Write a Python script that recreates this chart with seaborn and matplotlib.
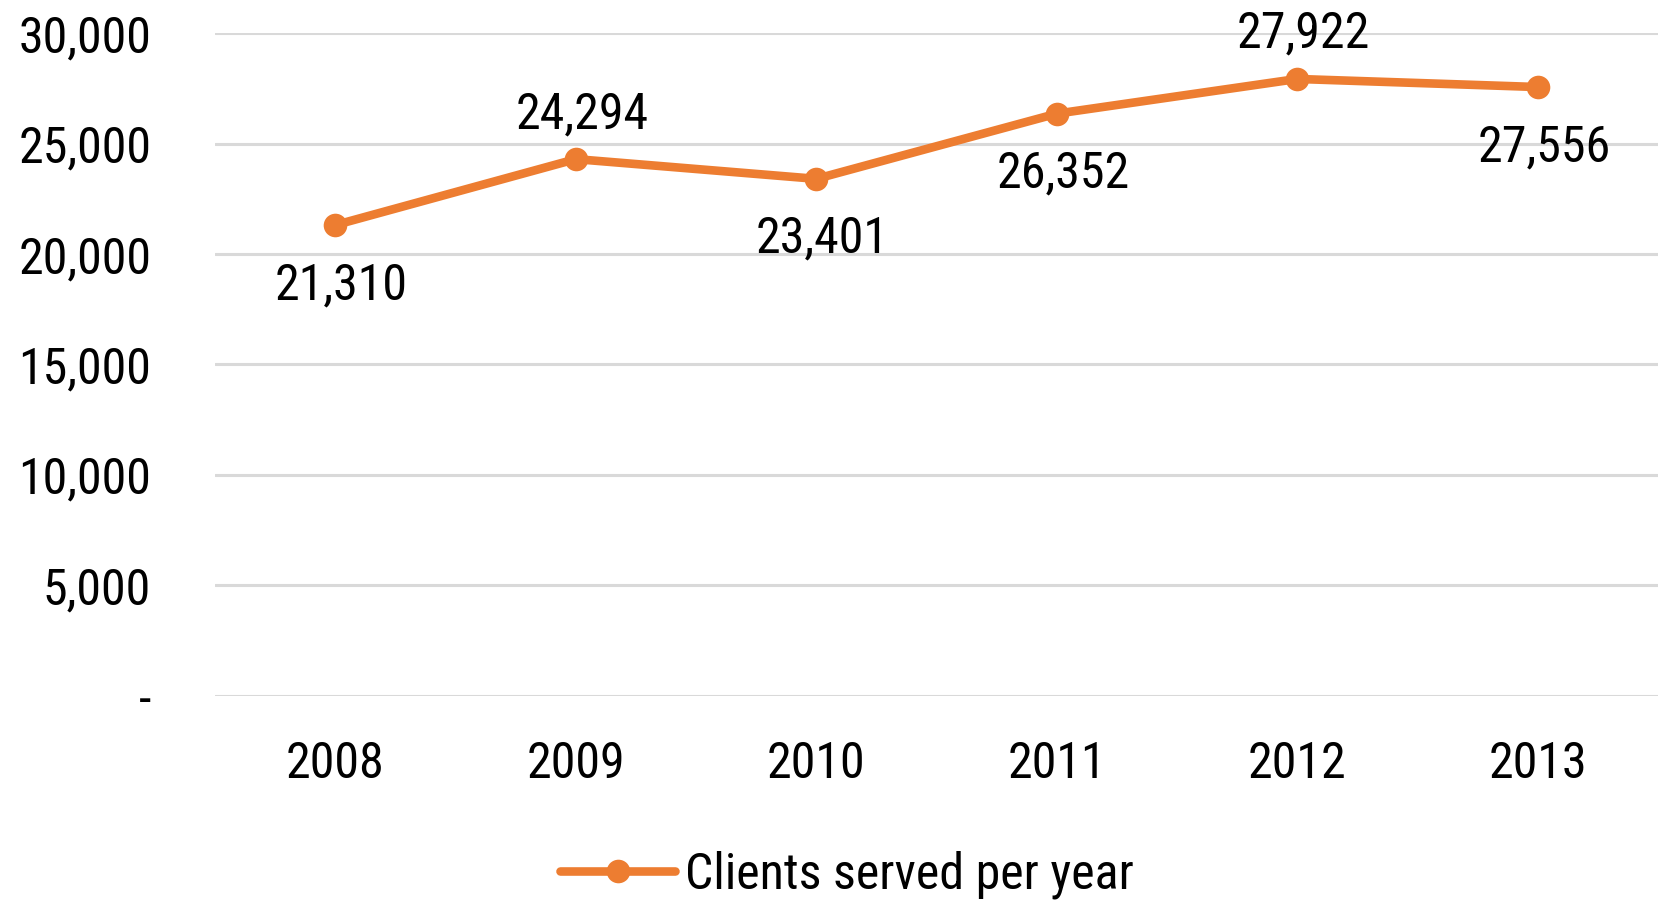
import matplotlib
matplotlib.use("Agg")
import matplotlib.pyplot as plt
import seaborn as sns
import pandas as pd
from matplotlib.ticker import FuncFormatter
from matplotlib import font_manager

years = ["2008", "2009", "2010", "2011", "2012", "2013"]
clients = [21310, 24294, 23401, 26352, 27922, 27556]
label_above = [False, True, False, False, True, False]
series_name = "Clients served per year"

ORANGE = "#ED7D31"


def fmt_y(v, pos):
    if v == 0:
        return "-"
    return f"{v:,.0f}"


def pick_font():
    names = {f.name for f in font_manager.fontManager.ttflist}
    for n in ["Liberation Sans Narrow", "Roboto Condensed", "DejaVu Sans Condensed"]:
        if n in names:
            return n
    return "DejaVu Sans"


def plot_clients(df, fsize):
    fig = plt.figure(figsize=(16.63, 9.05), dpi=100)
    ax = fig.add_axes([0.1293, 0.231, 0.8677, 0.7325])

    sns.lineplot(
        data=df, x="year", y="clients", ax=ax, color=ORANGE,
        linewidth=6.2, marker="o", markersize=17, markeredgewidth=0,
        label=series_name, sort=False,
    )

    ax.set_ylim(0, 30000)
    ax.set_xlim(-0.5, len(years) - 0.5)
    ax.set_yticks(range(0, 30001, 5000))
    ax.yaxis.set_major_formatter(FuncFormatter(fmt_y))
    ax.grid(axis="y", color="#D9D9D9", linewidth=2.2)
    ax.grid(axis="x", visible=False)
    ax.set_axisbelow(True)
    for s in ax.spines.values():
        s.set_visible(False)
    ax.tick_params(axis="y", length=0, pad=46, labelsize=fsize, labelcolor="black")
    ax.tick_params(axis="x", length=0, pad=32, labelsize=fsize, labelcolor="black")
    ax.set_xlabel("")
    ax.set_ylabel("")

    for i, (v, up) in enumerate(zip(clients, label_above)):
        off = 45 if up else -60
        ax.annotate(f"{v:,}", (i, v), xytext=(6, off), textcoords="offset pixels",
                    ha="center", va="center", fontsize=fsize, color="black")

    leg = ax.legend(loc="center", bbox_to_anchor=(0.438, -0.27), frameon=False,
                    fontsize=fsize, handlelength=2.3, handletextpad=0.2)
    for t in leg.get_texts():
        t.set_color("black")
    for h in leg.get_lines():
        h.set_linewidth(6.2)
        h.set_markersize(17)

    fig.savefig("out.png", dpi=100)


def main():
    sns.set_theme(style="white")
    font = pick_font()
    plt.rcParams["font.family"] = [font, "DejaVu Sans"]
    fsize = {"Liberation Sans Narrow": 37, "Roboto Condensed": 36,
             "DejaVu Sans Condensed": 31}.get(font, 28)
    df = pd.DataFrame({"year": years, "clients": clients})
    plot_clients(df, fsize)


if __name__ == "__main__":
    main()
